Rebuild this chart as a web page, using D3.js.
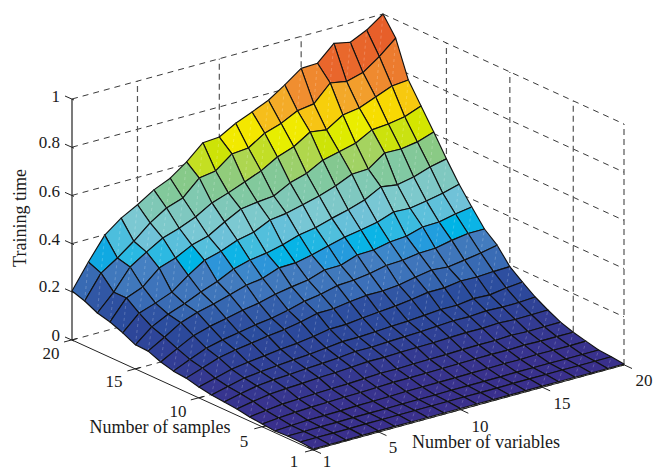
<!DOCTYPE html>
<html>
<head>
<meta charset="utf-8">
<script src="https://cdn.jsdelivr.net/npm/d3@7"></script>
<style>
body { margin: 0; background: #fff; }
text { font-family: "Liberation Serif", serif; font-size: 17px; fill: #1a1a1a; }
text.title { font-size: 18px; }
</style>
</head>
<body>
<div id="graph"></div>
<script>
const width = 653, height = 468;

const sampleTicks = [1, 5, 10, 15, 20];
const variableTicks = [1, 5, 10, 15, 20];
const timeTicks = [0, 0.2, 0.4, 0.6, 0.8, 1];

// one row per number of samples, 20 first; columns are variables 1..20
const timeBySample = [
  [.203,.305,.398,.45,.487,.53,.56,.609,.67,.675,.714,.742,.772,.817,.867,.87,.934,.92,.952,1.0],
  [.186,.283,.327,.378,.436,.479,.502,.566,.577,.629,.635,.678,.70,.734,.744,.812,.80,.818,.866,.924],
  [.16,.228,.314,.357,.397,.419,.447,.487,.51,.537,.564,.603,.627,.67,.66,.703,.714,.741,.768,.774],
  [.147,.228,.255,.315,.338,.373,.392,.432,.467,.477,.484,.52,.54,.577,.593,.61,.647,.653,.664,.69],
  [.126,.189,.212,.239,.29,.334,.353,.38,.395,.427,.436,.453,.471,.494,.524,.527,.575,.573,.584,.606],
  [.10,.156,.19,.215,.245,.27,.303,.322,.332,.348,.37,.382,.402,.419,.441,.477,.467,.481,.504,.519],
  [.098,.137,.179,.203,.219,.239,.26,.27,.295,.297,.311,.33,.348,.359,.373,.397,.394,.405,.419,.438],
  [.077,.114,.149,.169,.183,.199,.21,.228,.24,.25,.273,.274,.298,.30,.315,.32,.34,.342,.357,.367],
  [.063,.093,.121,.137,.149,.162,.171,.186,.204,.215,.232,.236,.245,.26,.263,.274,.276,.29,.30,.30],
  [.058,.081,.105,.119,.129,.14,.148,.161,.178,.179,.189,.197,.197,.203,.217,.228,.222,.232,.243,.257],
  [.045,.063,.082,.092,.1,.109,.115,.125,.137,.138,.146,.152,.158,.167,.178,.178,.188,.186,.19,.192],
  [.036,.053,.069,.077,.083,.089,.094,.101,.109,.109,.113,.117,.12,.125,.131,.13,.139,.136,.146,.152],
  [.031,.047,.06,.067,.071,.076,.08,.085,.092,.091,.095,.097,.10,.104,.108,.107,.112,.109,.11,.114],
  [.026,.039,.05,.055,.058,.063,.065,.069,.074,.073,.076,.077,.078,.081,.083,.082,.086,.082,.083,.084],
  [.017,.025,.033,.036,.039,.041,.043,.046,.05,.049,.051,.052,.053,.055,.056,.056,.059,.056,.057,.058],
  [.012,.018,.023,.026,.028,.03,.031,.033,.036,.036,.037,.038,.039,.04,.041,.04,.042,.04,.04,.04],
  [.007,.011,.014,.015,.016,.018,.019,.02,.022,.022,.023,.023,.024,.025,.026,.025,.027,.026,.026,.027],
  [.01,.01,.011,.011,.012,.012,.012,.013,.013,.013,.014,.014,.014,.014,.015,.015,.015,.014,.014,.014],
  [.009,.009,.009,.009,.01,.01,.01,.01,.01,.01,.01,.01,.01,.011,.011,.011,.011,.01,.01,.01],
  [.004,.004,.004,.005,.005,.005,.005,.005,.005,.005,.005,.005,.005,.005,.005,.005,.005,.004,.004,.004]
];

const colorStops = [0, .03, .08, .13, .15, .18, .20, .23, .255, .272, .29, .305, .325, .355, .38, .42, .46, .50, .53, .56, .58, .60, .63, .65, .665, .69, .73, .77, .80, .87, 1];
const colorValues = ["#3a2f8c", "#37358f", "#2f4196", "#2b4d9e", "#2f50a0", "#3666b0", "#3d72ba", "#4078bc", "#4580c2", "#2a98dc", "#00b4e6", "#10b4e6", "#4abedd", "#6fc1d8", "#7cc9d2",
  "#7fc8c0", "#80c9a8", "#85c88c", "#a8d45a", "#bfdd30", "#d0e400", "#e6ee00", "#f2ea00", "#f8dc00", "#f7c810", "#f5b425", "#f09030", "#ec7a2e", "#e9682c", "#e75e2a", "#e04020"];

const svg = d3.select("#graph").append("svg")
    .attr("width", width)
    .attr("height", height)
    .style("display", "block");

// orthographic view: each data axis adds its own screen offset
const sx = d3.scaleLinear().domain([1, 20]).range([313, 72]);
const sy = d3.scaleLinear().domain([1, 20]).range([450, 340]);
const vx = d3.scaleLinear().domain([1, 20]).range([0, 311]);
const vy = d3.scaleLinear().domain([1, 20]).range([0, -85]);
const zy = d3.scaleLinear().domain([0, 1]).range([0, -241]);
const color = d3.scaleLinear().domain(colorStops).range(colorValues);

function project(s, v, z) {
    return [sx(s) + vx(v), sy(s) + vy(v) + zy(z)];
}
function timeAt(s, v) {
    return timeBySample[20 - s][v - 1];
}
const line = d3.line();

function dashed(g, from, to, cls) {
    g.append("path")
        .attr("d", line([from, to]))
        .attr("class", cls)
        .attr("fill", "none")
        .attr("stroke", cls == "wall" ? "#555" : "#222")
        .attr("stroke-width", cls == "wall" ? 1.2 : 0.9)
        .attr("stroke-dasharray", cls == "wall" ? "6 4" : "6 5");
}

// back walls and floor
const grid = svg.append("g").attr("class", "grid");
timeTicks.forEach(z => {
    dashed(grid, project(20, 1, z), project(20, 20, z), "level");
    dashed(grid, project(20, 20, z), project(1, 20, z), "level");
});
variableTicks.slice(1).forEach(v => {
    dashed(grid, project(20, v, 0), project(20, v, 1), "wall");
    dashed(grid, project(20, v, 0), project(1, v, 0), "level");
});
sampleTicks.slice(0, -1).forEach(s => {
    dashed(grid, project(s, 20, 0), project(s, 20, 1), "wall");
    dashed(grid, project(s, 1, 0), project(s, 20, 0), "level");
});

// axis lines and ticks
const axes = svg.append("g").attr("class", "axes")
    .attr("fill", "none").attr("stroke", "#222").attr("stroke-width", 1);
axes.append("path").attr("d", line([project(20, 1, 0), project(20, 1, 1)])).attr("stroke", "#333").attr("stroke-width", 1.3);
axes.append("path").attr("d", line([project(20, 1, 0), project(1, 1, 0)]));
axes.append("path").attr("d", line([project(1, 1, 0), project(1, 20, 0)]));
timeTicks.forEach(z => {
    const p = project(20, 1, z);
    axes.append("path").attr("d", line([[p[0] - 7, p[1] - 3], [p[0] + 2, p[1] + 1]]));
});
sampleTicks.forEach(s => {
    const p = project(s, 1, 0);
    axes.append("path").attr("d", line([[p[0] - 8, p[1] + 2], [p[0] + 5, p[1] - 1.5]]));
});
variableTicks.forEach(v => {
    const p = project(1, v, 0);
    axes.append("path").attr("d", line([[p[0] - 6, p[1] - 3], [p[0] + 8, p[1] + 3.5]]));
});

// surface, painted from the far corner forwards
const cells = [];
d3.range(19, 0, -1).forEach(s => {
    d3.range(19, 0, -1).forEach(v => cells.push({s: s, v: v}));
});
const corners = d => [
    project(d.s, d.v, timeAt(d.s, d.v)),
    project(d.s + 1, d.v, timeAt(d.s + 1, d.v)),
    project(d.s + 1, d.v + 1, timeAt(d.s + 1, d.v + 1)),
    project(d.s, d.v + 1, timeAt(d.s, d.v + 1))
];
const cell = svg.append("g").attr("class", "surface")
    .selectAll("g")
    .data(cells)
    .enter()
    .append("g");
cell.append("path")
    .attr("d", d => line(corners(d)) + "Z")
    .attr("fill", d => color(timeAt(d.s, d.v)))
    .attr("stroke", "#111")
    .attr("stroke-width", 1.15)
    .attr("stroke-linejoin", "round");
// the faint pale seam across each face
cell.append("path")
    .attr("d", d => {
        const c = corners(d);
        return line([c[0], c[2]]);
    })
    .attr("stroke", "#fff")
    .attr("stroke-opacity", 0.3)
    .attr("stroke-width", 0.7)
    .attr("stroke-dasharray", "3 3")
    .attr("fill", "none");

// labels
const labels = svg.append("g").attr("class", "labels");
const zLabelY = [335, 286, 239, 191, 142, 96];
timeTicks.forEach((z, i) => {
    labels.append("text").attr("x", 60).attr("y", zLabelY[i]).attr("dy", "0.35em")
        .attr("text-anchor", "end").text(z);
});
const sampleLabelPos = [[294, 461], [244, 441], [178, 411], [114, 381], [51, 353]];
sampleTicks.forEach((s, i) => {
    labels.append("text").attr("x", sampleLabelPos[i][0]).attr("y", sampleLabelPos[i][1]).attr("dy", "0.35em")
        .attr("text-anchor", "middle").text(s);
});
const variableLabelPos = [[327, 461], [393, 447], [480, 426], [562, 403], [644, 380]];
variableTicks.forEach((v, i) => {
    labels.append("text").attr("x", variableLabelPos[i][0]).attr("y", variableLabelPos[i][1]).attr("dy", "0.35em")
        .attr("text-anchor", "middle").text(v);
});
labels.append("text").attr("class", "title").attr("x", 160).attr("y", 427).attr("dy", "0.35em").attr("text-anchor", "middle").text("Number of samples");
labels.append("text").attr("class", "title").attr("x", 486).attr("y", 442).attr("dy", "0.35em").attr("text-anchor", "middle").text("Number of variables");
labels.append("text").attr("class", "title").attr("transform", "translate(20,218) rotate(-90)").attr("dy", "0.35em").attr("text-anchor", "middle").text("Training time");
</script>
</body>
</html>
